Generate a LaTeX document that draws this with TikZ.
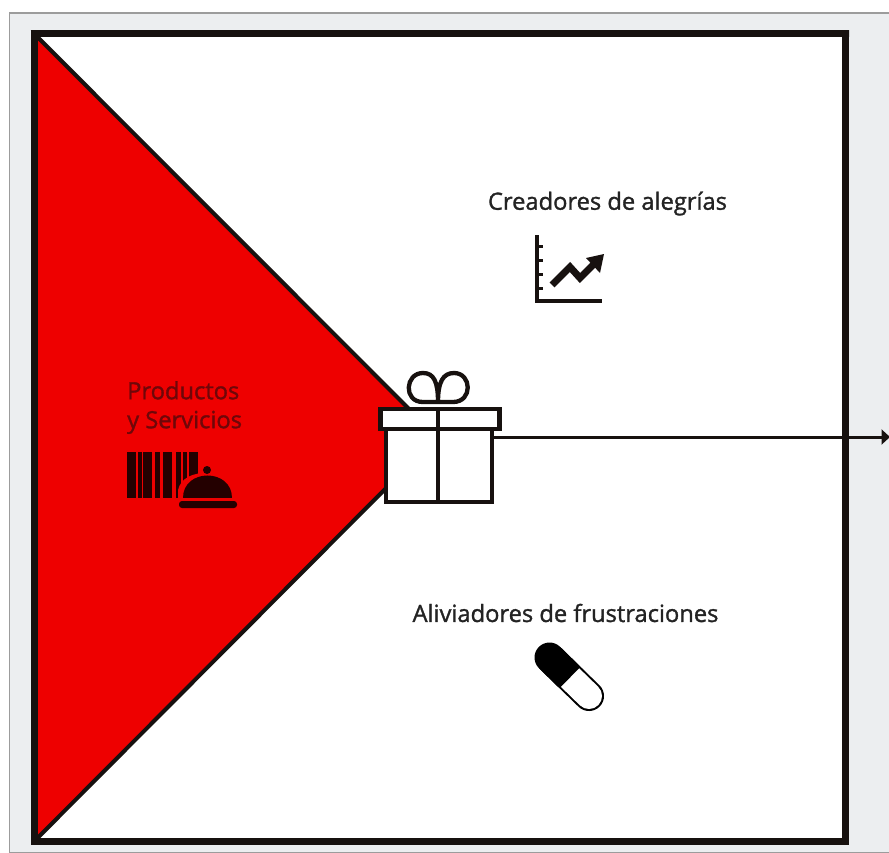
\documentclass[tikz,border=0pt]{standalone}
\usepackage{fontspec}
\setmainfont{Open Sans}
\newfontfamily\labelfont[FakeBold=1.3]{Open Sans}
\usetikzlibrary{arrows.meta}
\definecolor{panel}{HTML}{ECEEF0}
\definecolor{panelline}{HTML}{9C9C9C}
\definecolor{inkblack}{HTML}{17110F}
\definecolor{vpred}{HTML}{EE0000}
\definecolor{redtext}{HTML}{6E0709}
\definecolor{labeltext}{HTML}{232323}
\tikzset{
  panelbox/.style={fill=panel,draw=panelline,line width=1.5pt},
  frame/.style={draw=inkblack,line width=7pt,fill=white,line join=miter},
  wedge/.style={fill=vpred,draw=inkblack,line width=4pt,line join=round},
  giftline/.style={draw=inkblack,line width=4.3pt},
  giftbox/.style={giftline,fill=white,rectangle,inner sep=0pt,outer sep=0pt},
  label/.style={font=\labelfont\fontsize{23.7}{29}\selectfont,text=labeltext,inner sep=0pt,align=center},
  redlabel/.style={font=\labelfont\fontsize{23.7}{29}\selectfont,text=redtext,inner sep=0pt,align=left},
  connector/.style={draw=inkblack,line width=3pt,-{Triangle[length=8.5pt,width=15pt]}},
  bar/.style={fill=black!85!vpred,draw=none},
  iconline/.style={draw=inkblack,line width=4pt},
}
\begin{document}
\begin{tikzpicture}[x=1pt,y=-1pt]
\useasboundingbox (0,0) rectangle (889,852);
\fill[white] (0,0) rectangle (889,852);
\path[panelbox] (9.5,13) -- (889.5,13) -- (889.5,853) -- (9.5,853) -- cycle;
% frame
\path[frame] (34,33.5) rectangle (845.5,841.5);
% wedge
\path[wedge] (34,33.5) -- (437,437) -- (34,841.5) -- cycle;
\draw[inkblack,line width=7pt] (30.5,33.5) -- (849,33.5) -- (845.5,33.5) -- (845.5,841.5) -- (34,841.5) -- (34,30);
% connector end
\coordinate (arrowend) at (890,437);
% bow
\draw[giftline,fill=none] (438,402) -- (423,402) .. controls (403,402) and (405,373) .. (423,373) .. controls (434,373) and (438,382) .. (438,402)
  .. controls (438,382) and (443,373) .. (454,373) .. controls (472,373) and (473,402) .. (453,402) -- (438,402);
% gift
\node[giftbox,minimum width=106pt,minimum height=73pt] (giftbody) at (439,465.5) {};
\node[giftbox,minimum width=119pt,minimum height=20pt] (giftlid) at (440,419) {};
\draw[giftline] (giftlid.north -| 438,0) -- (giftbody.south -| 438,0);
\draw[connector] (giftbody.east |- arrowend) -- (arrowend);
% labels
\node[label] (joy) at (607.5,203.5) {Creadores de alegrías};
\node[label] (pain) at (565.5,613) {Aliviadores de frustraciones};
\node[redlabel,anchor=north west] (prod) at (127,381) {Productos\\y Servicios};
% barcode
\foreach \a/\b in {126.5/135.5,137.5/142,143/152,154.5/159.5,162.5/171.5,175.5/180.5,182.5/187,188.5/197.5}
  \fill[bar] (\a,451.5) rectangle (\b,497.5);
% cloche
\fill[vpred] (178,500) -- (178,490) .. controls (183,466) and (232,466) .. (238,500) -- cycle;
\fill[bar] (183,498) .. controls (183,468) and (232,468) .. (232,498) -- cycle;
\fill[bar] (207,470) circle (4pt);
\fill[bar,rounded corners=3pt] (179,501) rectangle (237,508);
% chart icon
\draw[iconline,line cap=butt] (537,235) -- (537,301) -- (602,301);
\foreach \y in {246,260,274,288} \draw[inkblack,line width=3pt] (537,\y) -- (543,\y);
\draw[inkblack,line width=7pt,line join=miter] (552,285) -- (570,267) -- (580,278) -- (594,264);
\fill[inkblack] (586,258) -- (604,254) -- (600,273) -- cycle;
% pill
\draw[black,line width=30pt,line cap=round] (549.5,657.5) -- (589,696);
\draw[white,line width=26pt,line cap=round] (570,677.5) -- (589,696);
\draw[black,line width=30pt] (549.5,657.5) -- (570,677.5);
\end{tikzpicture}
\end{document}
